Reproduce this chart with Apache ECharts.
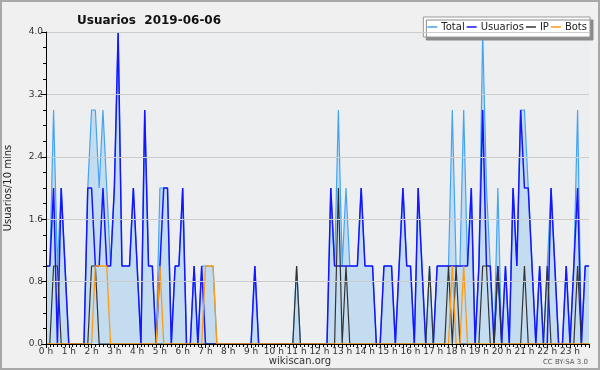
<!DOCTYPE html>
<html><head><meta charset="utf-8">
<script src="https://cdn.jsdelivr.net/npm/echarts@6/dist/echarts.min.js"></script>
<style>html,body{margin:0;padding:0;background:#f0f0f0}#c{width:600px;height:370px}</style>
</head><body><div id="c"></div>
<script>
// 10-minute slots, 0h00 .. 23h50 (144 values each)
const hourLabels = ['0 h','1 h','2 h','3 h','4 h','5 h','6 h','7 h','8 h','9 h','10 h','11 h','12 h','13 h','14 h','15 h','16 h','17 h','18 h','19 h','20 h','21 h','22 h','23 h'];
const seriesNames = ['Total','Usuarios','IP','Bots'];
const usuarios = [
 1,1,2,0,2,1,0,0,0,0, 0,2,2,1,1,2,1,1,2,4, 1,1,1,2,1,0,3,1,1,0,
 1,2,2,0,1,1,2,0,0,1, 0,1,0,0,0,0,0,0,0,0, 0,0,0,0,0,1,0,0,0,0,
 0,0,0,0,0,0,0,0,0,0, 0,0,0,0,0,2,1,1,1,1, 1,1,1,2,1,1,1,0,0,1,
 1,1,0,1,2,1,1,0,2,1, 0,0,0,1,1,1,1,1,1,1, 1,1,2,0,1,3,1,1,0,1,
 0,1,0,2,1,3,2,2,1,0, 1,0,0,2,1,0,0,1,0,1, 2,0,1,1];
const ip = [
 0,0,1,1,0,0,0,0,0,0, 0,0,1,1,0,0,0,0,0,0, 0,0,0,0,0,0,0,0,0,0,
 0,0,0,0,0,0,0,0,0,0, 0,0,0,0,0,0,0,0,0,0, 0,0,0,0,0,0,0,0,0,0,
 0,0,0,0,0,0,1,0,0,0, 0,0,0,0,0,0,0,2,0,1, 0,0,0,0,0,0,0,0,0,0,
 0,0,0,0,0,0,0,0,0,0, 0,1,0,0,0,0,1,0,1,0, 0,0,0,0,0,1,1,0,0,1,
 0,0,0,0,0,0,1,0,0,0, 0,0,1,0,0,0,0,0,0,0, 1,0,0,0];
const bots = [
 0,0,0,0,0,0,0,0,0,0, 0,0,0,1,1,1,1,0,0,0, 0,0,0,0,0,0,0,0,0,0,
 1,0,0,0,0,0,0,0,0,0, 0,0,1,1,1,0,0,0,0,0, 0,0,0,0,0,0,0,0,0,0,
 0,0,0,0,0,0,0,0,0,0, 0,0,0,0,0,0,0,0,0,0, 0,0,0,0,0,0,0,0,0,0,
 0,0,0,0,0,0,0,0,0,0, 0,0,0,0,0,0,0,1,0,0, 1,0,0,0,0,0,0,0,0,0,
 0,0,0,0,0,0,0,0,0,0, 0,0,0,0,0,0,0,0,0,0, 0,0,0,0];
const total = [
 1,1,3,1,2,1,0,0,0,0, 0,2,3,3,2,3,2,1,2,4, 1,1,1,2,1,0,3,1,1,0,
 2,2,2,0,1,1,2,0,0,1, 0,1,1,1,1,0,0,0,0,0, 0,0,0,0,0,1,0,0,0,0,
 0,0,0,0,0,0,1,0,0,0, 0,0,0,0,0,2,1,3,1,2, 1,1,1,2,1,1,1,0,0,1,
 1,1,0,1,2,1,1,0,2,1, 0,1,0,1,1,1,1,3,1,1, 3,1,2,0,1,4,2,1,0,2,
 0,1,0,2,1,3,3,2,1,0, 1,0,1,2,1,0,0,1,0,1, 3,0,1,1];

const pts = a => a.map((v, i) => [i, v]);
const chart = echarts.init(document.getElementById('c'), null, {renderer: 'canvas'});
const FONT = 'DejaVu Sans';
chart.setOption({
  animation: false,
  backgroundColor: '#f0f0f0',
  title: {text: 'Usuarios  2019-06-06', left: 72, top: 10,
    textStyle: {fontFamily: FONT, fontSize: 12, fontWeight: 'bold', color: '#111'}},
  legend: {
    data: seriesNames, right: 10, top: 17, orient: 'horizontal',
    icon: 'rect', itemWidth: 10, itemHeight: 1.5, itemGap: 2,
    padding: [5, 3, 5, 4],
    backgroundColor: '#ffffff', borderColor: '#9a9a9a', borderWidth: 1,
    shadowColor: '#8a8a8a', shadowOffsetX: 3, shadowOffsetY: 3, shadowBlur: 0,
    textStyle: {fontFamily: FONT, fontSize: 10, color: '#222', padding: [0, 0, 0, -1]}
  },
  grid: {left: 46, right: 11, top: 32, bottom: 26, show: true,
    containLabel: false, outerBoundsMode: 'none',
    backgroundColor: '#edeef0', borderWidth: 0},
  xAxis: {
    type: 'value', min: 0, max: 143, interval: 6, z: 10,
    axisLine: {lineStyle: {color: '#000', width: 1}},
    axisTick: {length: 4, lineStyle: {color: '#000'}},
    minorTick: {show: true, splitNumber: 6, length: 3, lineStyle: {color: '#000'}},
    splitLine: {show: false},
    axisLabel: {fontFamily: FONT, fontSize: 9, color: '#333', margin: 3,
      formatter: v => hourLabels[v / 6] || ''}
  },
  yAxis: {
    type: 'value', min: 0, max: 4, interval: 0.8, z: 10,
    name: 'Usuarios/10 mins', nameLocation: 'middle', nameGap: 33,
    nameTextStyle: {fontFamily: FONT, fontSize: 10, color: '#222'},
    axisLine: {show: true, lineStyle: {color: '#000', width: 1}},
    axisTick: {show: true, length: 5, lineStyle: {color: '#000'}},
    minorTick: {show: true, splitNumber: 4, length: 3, lineStyle: {color: '#000'}},
    splitLine: {lineStyle: {color: '#cccccc', width: 1}},
    axisLabel: {fontFamily: FONT, fontSize: 9, color: '#333', margin: 3,
      formatter: v => v.toFixed(1)}
  },
  series: [
    {name: 'Total', type: 'line', data: pts(total), symbol: 'none', z: 2,
      lineStyle: {color: '#44a4f4', width: 1.2}, itemStyle: {color: '#44a4f4'},
      areaStyle: {color: '#c4dcf0', opacity: 1}},
    {name: 'Usuarios', type: 'line', data: pts(usuarios), symbol: 'none', z: 3,
      lineStyle: {color: '#1515ff', width: 1.5}, itemStyle: {color: '#1515ff'}},
    {name: 'IP', type: 'line', data: pts(ip), symbol: 'none', z: 4,
      lineStyle: {color: '#333333', width: 1.2}, itemStyle: {color: '#333333'}},
    {name: 'Bots', type: 'line', data: pts(bots), symbol: 'none', z: 5,
      lineStyle: {color: '#ff9a10', width: 1.3}, itemStyle: {color: '#ff9a10'}}
  ],
  graphic: [
    {type: 'rect', silent: true, shape: {x: 1, y: 1, width: 598, height: 368},
      style: {fill: 'none', stroke: '#a8a8a8', lineWidth: 2}},
    {type: 'text', left: 'center', top: 356, silent: true,
      style: {text: 'wikiscan.org', font: '10px "DejaVu Sans"', fill: '#333'}},
    {type: 'text', right: 12, top: 359, silent: true,
      style: {text: 'CC BY-SA 3.0', font: '7px "DejaVu Sans"', fill: '#555'}}
  ]
});
</script></body></html>
